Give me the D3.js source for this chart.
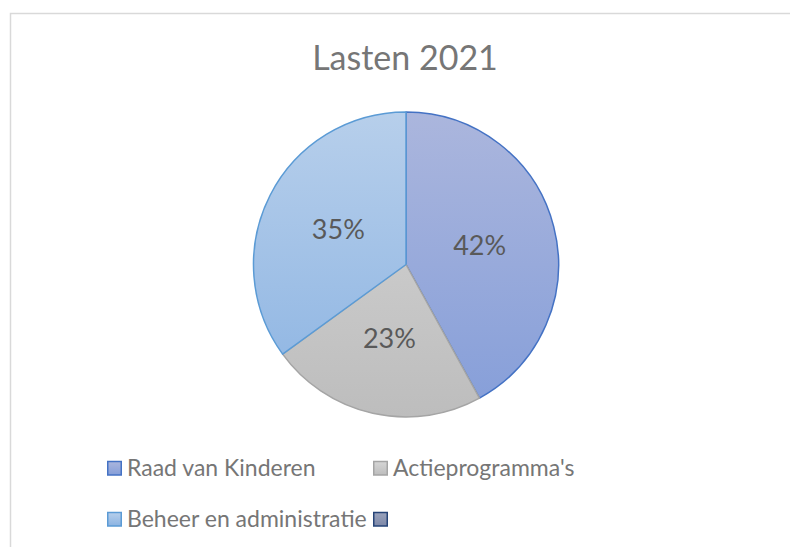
<!DOCTYPE html>
<html>
<head>
<meta charset="utf-8">
<script src="https://cdn.jsdelivr.net/npm/d3@7"></script>
<style>
  body { margin: 0; background: #fff; }
  svg { font-family: Lato, "Open Sans", sans-serif; }
</style>
</head>
<body>
<div id="chart"></div>
<script>
// data
var categories = ["Raad van Kinderen", "Actieprogramma's", "Beheer en administratie", ""];
var values = [42, 23, 35, 0];
var title = "Lasten 2021";

var width = 790,
    height = 547,
    cx = 406,
    cy = 264.5,
    radius = 152.5;

var svg = d3.select("#chart")
  .append("svg")
  .attr("width", width)
  .attr("height", height);

// fills, top colour / bottom colour / edge
var styles = [
  { top: "#abb6dd", bottom: "#859ed9", stroke: "#4472c4" },
  { top: "#d6d6d6", bottom: "#bdbdbd", stroke: "#a5a5a5" },
  { top: "#b7cfeb", bottom: "#8bb3e2", stroke: "#5b9bd5" },
  { top: "#9aa3bd", bottom: "#7d88a8", stroke: "#264478" }
];

var defs = svg.append("defs");
styles.forEach(function(s, i) {
  // pie coordinates are centred on 0,0
  var g = defs.append("linearGradient")
    .attr("id", "grad" + i)
    .attr("gradientUnits", "userSpaceOnUse")
    .attr("x1", 0).attr("x2", 0)
    .attr("y1", -radius).attr("y2", radius);
  g.append("stop").attr("offset", "0%").attr("stop-color", s.top);
  g.append("stop").attr("offset", "100%").attr("stop-color", s.bottom);
  // small gradient for legend markers
  var lg = defs.append("linearGradient")
    .attr("id", "lgrad" + i)
    .attr("x1", 0).attr("x2", 0).attr("y1", 0).attr("y2", 1);
  lg.append("stop").attr("offset", "0%").attr("stop-color", s.top);
  lg.append("stop").attr("offset", "100%").attr("stop-color", s.bottom);
});

// chart frame
svg.append("rect")
  .attr("x", 10.5)
  .attr("y", 13.5)
  .attr("width", 800)
  .attr("height", 600)
  .attr("fill", "none")
  .attr("stroke", "#d9d9d9")
  .attr("stroke-width", 1.5);

// title
svg.append("text")
  .attr("x", cx - 1)
  .attr("y", 70)
  .attr("text-anchor", "middle")
  .attr("fill", "#767676")
  .style("font-size", "34px")
  .text(title);

var pie = d3.pie().sort(null).value(function(d) { return d; });
var arcs = pie(values.slice(0, 3));

var arc = d3.arc().innerRadius(0).outerRadius(radius);
var labelArc = d3.arc().innerRadius(76).outerRadius(76);

var g = svg.append("g")
  .attr("transform", "translate(" + cx + "," + cy + ")");

g.selectAll("path")
  .data(arcs)
  .enter()
  .append("path")
  .attr("d", arc)
  .attr("fill", function(d, i) { return "url(#grad" + i + ")"; })
  .attr("stroke", function(d, i) { return styles[i].stroke; })
  .attr("stroke-width", 1.5)
  .attr("stroke-linejoin", "round");

// percentage labels
g.selectAll("text.pct")
  .data(arcs)
  .enter()
  .append("text")
  .attr("class", "pct")
  .attr("x", function(d) { return labelArc.centroid(d)[0]; })
  .attr("y", function(d) { return labelArc.centroid(d)[1]; })
  .attr("dy", "0.35em")
  .attr("text-anchor", "middle")
  .attr("fill", "#595959")
  .style("font-size", "27px")
  .text(function(d) { return Math.round(d.data) + "%"; });

// legend
var legendX = [107, 373],
    legendY = [468, 519];

var legend = svg.selectAll("g.legend")
  .data(categories)
  .enter()
  .append("g")
  .attr("class", "legend")
  .attr("transform", function(d, i) {
    var col = i % 2, row = Math.floor(i / 2);
    return "translate(" + legendX[col] + "," + legendY[row] + ")";
  });

legend.append("rect")
  .attr("x", 0.75)
  .attr("y", -6.5)
  .attr("width", 13.5)
  .attr("height", 13.5)
  .attr("fill", function(d, i) { return "url(#lgrad" + i + ")"; })
  .attr("stroke", function(d, i) { return styles[i].stroke; })
  .attr("stroke-width", 1.5);

legend.append("text")
  .attr("x", 20)
  .attr("y", 0)
  .attr("dy", "0.35em")
  .attr("fill", "#767676")
  .style("font-size", "23px")
  .text(function(d) { return d; });
</script>
</body>
</html>
